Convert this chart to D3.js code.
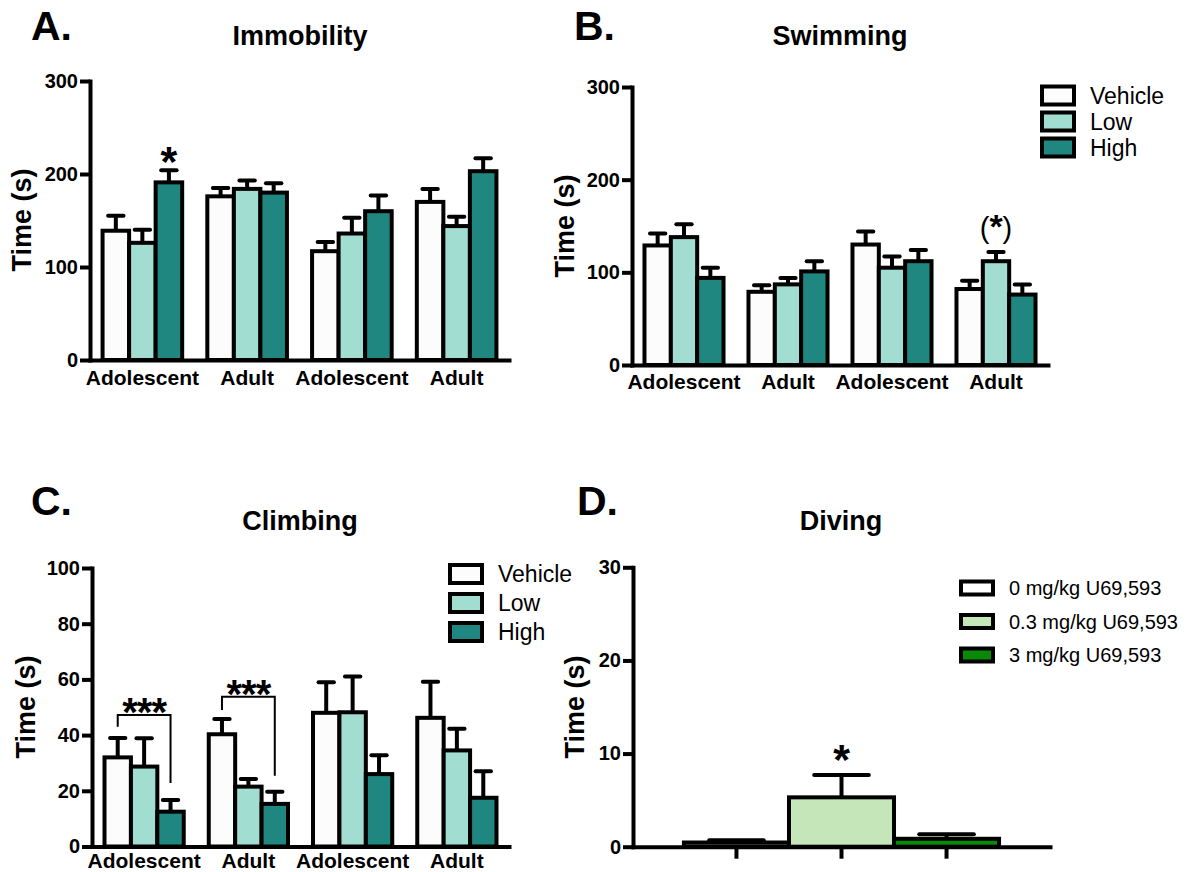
<!DOCTYPE html>
<html>
<head>
<meta charset="utf-8">
<script src="https://cdn.jsdelivr.net/npm/d3@7"></script>
<style>
  body { margin: 0; background: #fff; }
  text { font-family: "Liberation Sans", Arial, sans-serif; fill: #000; }
</style>
</head>
<body>
<script>
// ---- data ----
var groups = ["Adolescent", "Adult", "Adolescent", "Adult"];
var treatments = ["Vehicle", "Low", "High"];
var doses = ["0 mg/kg U69,593", "0.3 mg/kg U69,593", "3 mg/kg U69,593"];

var immobilityMean = [[139, 126, 191], [176, 184, 180], [117, 136, 160], [170, 144, 203]];
var immobilitySem  = [[16, 14, 13], [9, 9, 10], [10, 17, 17], [14, 10, 14]];

var swimmingMean = [[129, 138, 94], [79, 87, 101], [130, 105, 112], [82, 112, 76]];
var swimmingSem  = [[13, 14, 11], [7, 7, 11], [14, 12, 12], [9, 10, 11]];

var climbingMean = [[32, 28.7, 12.5], [40.3, 21.5, 15.3], [48, 48.2, 26], [46.2, 34.5, 17.5]];
var climbingSem  = [[7, 10.2, 4.2], [5.5, 2.7, 4.4], [11, 12.8, 6.8], [13, 7.8, 9.5]];

var divingMean = [0.45, 5.3, 0.85];
var divingSem  = [0.25, 2.4, 0.5];

var ticks300 = [0, 100, 200, 300];
var ticks100 = [0, 20, 40, 60, 80, 100];
var ticks30  = [0, 10, 20, 30];

// significance marks: [group, treatment, label]
var immobilityMarks = [[0, 2, "*"]];
var swimmingMarks = [[3, 1, "(*)"]];
var divingMarks = [[1, "*"]];
// brackets in climbing: group, bracket level, left leg end, right leg end (seconds)
var climbingBrackets = [[0, 47.2, 43, 22.8], [1, 53.8, 49, 25.4]];

var treatmentColors = ["#fcfcfc", "#a2ddd2", "#1f877f"];
var doseColors = ["#ffffff", "#c5e6b9", "#088a08"];

// ---- drawing ----
var svg = d3.select('body').append('svg')
    .attr('width', 1186)
    .attr('height', 872);

var SW = 4;

function styleAxis(ax) {
  ax.selectAll('path.domain').attr('stroke', '#000').attr('stroke-width', SW).attr('stroke-linecap', 'square');
  ax.selectAll('.tick line').attr('stroke', '#000').attr('stroke-width', SW);
  ax.selectAll('.tick text')
    .attr('fill', '#000')
    .style('font-family', '"Liberation Sans", Arial, sans-serif')
    .style('font-weight', 'bold')
    .style('font-size', '20px');
}

function panelText(letter, lx, ly, title, tx, ty, yl, ylx, yly) {
  svg.append('text').attr('x', lx).attr('y', ly).text(letter)
    .style('font-size', '41px').style('font-weight', 'bold');
  svg.append('text').attr('x', tx).attr('y', ty).text(title)
    .attr('text-anchor', 'middle')
    .style('font-size', '27px').style('font-weight', 'bold');
  svg.append('text')
    .attr('transform', 'translate(' + ylx + ',' + yly + ') rotate(-90)')
    .attr('text-anchor', 'middle')
    .attr('dominant-baseline', 'central')
    .text(yl)
    .style('font-size', '27px').style('font-weight', 'bold');
}

function errorBar(g, cx, yTop, yBar, capW) {
  g.append('line').attr('x1', cx).attr('x2', cx).attr('y1', yBar).attr('y2', yTop)
    .attr('stroke', '#000').attr('stroke-width', SW);
  g.append('line').attr('x1', cx - capW / 2).attr('x2', cx + capW / 2).attr('y1', yTop).attr('y2', yTop)
    .attr('stroke', '#000').attr('stroke-width', SW).attr('stroke-linecap', 'round');
}

function legend(labels, colors, x, y0, dy, bw, bh, fs) {
  var lg = svg.append('g');
  labels.forEach(function (l, i) {
    var cy = y0 + i * dy;
    lg.append('rect').attr('x', x).attr('y', cy - bh / 2).attr('width', bw).attr('height', bh)
      .attr('fill', colors[i]).attr('stroke', '#000').attr('stroke-width', SW);
    lg.append('text').attr('x', x + bw + 16).attr('y', cy).attr('dominant-baseline', 'central')
      .text(l).style('font-size', fs + 'px');
  });
}

function groupedPanel(cfg) {
  var g = svg.append('g');
  var x = d3.scaleBand().domain(d3.range(groups.length))
      .range([cfg.x0, cfg.x1]).paddingInner(0.24).paddingOuter(0.12);
  var xi = d3.scaleBand().domain(d3.range(treatments.length)).range([0, x.bandwidth()]);
  var y = d3.scaleLinear().domain([0, cfg.max]).range([cfg.yBottom, cfg.yTop]);
  var bw = xi.bandwidth();

  cfg.mean.forEach(function (row, i) {
    row.forEach(function (v, j) {
      var bx = x(i) + xi(j);
      g.append('rect').attr('x', bx).attr('y', y(v))
        .attr('width', bw).attr('height', y(0) - y(v))
        .attr('fill', treatmentColors[j]).attr('stroke', '#000').attr('stroke-width', SW);
    });
  });
  cfg.mean.forEach(function (row, i) {
    row.forEach(function (v, j) {
      var cx = x(i) + xi(j) + bw / 2;
      errorBar(g, cx, y(v + cfg.sem[i][j]), y(v), bw * 0.58);
    });
  });

  var ay = g.append('g').attr('transform', 'translate(' + cfg.x0 + ',0)')
    .call(d3.axisLeft(y).tickValues(cfg.ticks).tickSize(10).tickSizeOuter(0).tickPadding(2));
  styleAxis(ay);
  var ax = g.append('g').attr('transform', 'translate(0,' + y(0) + ')')
    .call(d3.axisBottom(x).tickFormat(function (i) { return groups[i]; })
      .tickSize(0).tickSizeOuter(0).tickPadding(cfg.labelPad));
  styleAxis(ax);
  ax.selectAll('.tick text').style('font-size', '21px');

  (cfg.marks || []).forEach(function (m) {
    var cx = x(m[0]) + xi(m[1]) + bw / 2;
    var top = y(cfg.mean[m[0]][m[1]] + cfg.sem[m[0]][m[1]]);
    if (m[2] === "*") {
      g.append('text').attr('x', cx).attr('y', top + 6).attr('text-anchor', 'middle')
        .text(m[2]).style('font-size', '43px').style('font-weight', 'bold');
    } else {
      var t = g.append('text').attr('x', cx).attr('y', top - 14).attr('text-anchor', 'middle')
        .style('font-size', '29px');
      t.append('tspan').text('(');
      t.append('tspan').text('*').style('font-weight', 'bold').style('font-size', '34px');
      t.append('tspan').text(')');
    }
  });

  (cfg.brackets || []).forEach(function (b) {
    var xl = x(b[0]) + xi(0) + bw / 2;
    var xr = x(b[0]) + xi(2) + bw / 2;
    g.append('path')
      .attr('d', 'M' + xl + ',' + y(b[2]) + 'V' + y(b[1]) + 'H' + xr + 'V' + y(b[3]))
      .attr('fill', 'none').attr('stroke', '#000').attr('stroke-width', 2);
    g.append('text').attr('x', (xl + xr) / 2).attr('y', y(b[1]) + 11).attr('text-anchor', 'middle')
      .attr('letter-spacing', '-1px')
      .text('***').style('font-size', '40px').style('font-weight', 'bold');
  });
}

// A. Immobility
panelText('A.', 31, 40, 'Immobility', 300, 45, 'Time (s)', 22, 220);
groupedPanel({ x0: 90, x1: 509, yBottom: 360, yTop: 81, max: 300, ticks: ticks300,
  mean: immobilityMean, sem: immobilitySem, marks: immobilityMarks, labelPad: 10 });

// B. Swimming
panelText('B.', 574, 40, 'Swimming', 840, 45, 'Time (s)', 565, 226);
groupedPanel({ x0: 632, x1: 1048, yBottom: 365, yTop: 87, max: 300, ticks: ticks300,
  mean: swimmingMean, sem: swimmingSem, marks: swimmingMarks, labelPad: 9 });
legend(treatments, treatmentColors, 1042, 95.5, 26, 32, 18, 23);

// C. Climbing
panelText('C.', 31, 515, 'Climbing', 300, 530, 'Time (s)', 26, 707);
groupedPanel({ x0: 92, x1: 509, yBottom: 846.5, yTop: 568, max: 100, ticks: ticks100,
  mean: climbingMean, sem: climbingSem, brackets: climbingBrackets, labelPad: 7 });
legend(treatments, treatmentColors, 450, 574, 29, 32, 18, 23);

// D. Diving
(function () {
  panelText('D.', 577, 515, 'Diving', 841, 530, 'Time (s)', 575, 707);
  var g = svg.append('g');
  var x = d3.scaleBand().domain(d3.range(doses.length)).range([633, 1050])
      .paddingInner(0).paddingOuter(0.485);
  var y = d3.scaleLinear().domain([0, 30]).range([846.7, 567.3]);
  var bw = x.bandwidth();
  divingMean.forEach(function (v, i) {
    g.append('rect').attr('x', x(i)).attr('y', y(v)).attr('width', bw).attr('height', y(0) - y(v))
      .attr('fill', doseColors[i]).attr('stroke', '#000').attr('stroke-width', SW);
  });
  divingMean.forEach(function (v, i) {
    errorBar(g, x(i) + bw / 2, y(v + divingSem[i]), y(v), bw * 0.52);
  });
  var ay = g.append('g').attr('transform', 'translate(633,0)')
    .call(d3.axisLeft(y).tickValues(ticks30).tickSize(10).tickSizeOuter(0).tickPadding(2));
  styleAxis(ay);
  var ax = g.append('g').attr('transform', 'translate(0,' + y(0) + ')')
    .call(d3.axisBottom(x).tickFormat('').tickSize(12).tickSizeOuter(0));
  styleAxis(ax);
  divingMarks.forEach(function (m) {
    var i = m[0];
    g.append('text').attr('x', x(i) + bw / 2).attr('y', y(divingMean[i] + divingSem[i]) - 1)
      .attr('text-anchor', 'middle').text(m[1])
      .style('font-size', '43px').style('font-weight', 'bold');
  });
  legend(doses, doseColors, 961, 588, 33.5, 32, 13, 20);
})();
</script>
</body>
</html>
